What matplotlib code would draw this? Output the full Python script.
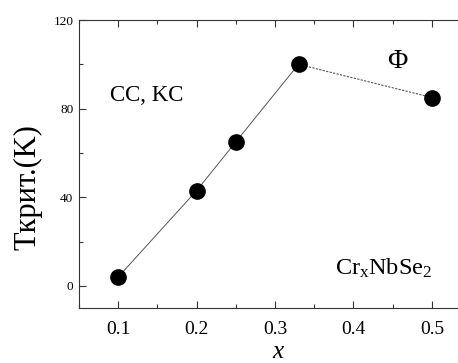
import matplotlib
matplotlib.use("Agg")
import matplotlib.pyplot as plt
from matplotlib.ticker import MultipleLocator

plt.rcParams['font.family'] = ['Liberation Serif', 'DejaVu Serif']
plt.rcParams['mathtext.fontset'] = 'custom'
plt.rcParams['mathtext.rm'] = 'Liberation Serif'
plt.rcParams['mathtext.it'] = 'Liberation Serif:italic'

# data
x_cs = [0.1, 0.2, 0.25, 0.33]
t_cs = [4, 43, 65, 100]
x_phi = [0.33, 0.5]
t_phi = [100, 85]
x_ticks = [0.1, 0.2, 0.3, 0.4, 0.5]
y_ticks = [0, 40, 80, 120]

fig = plt.figure(figsize=(4.58, 3.63), dpi=100)
ax = fig.add_axes([0.1725, 0.1515, 0.856, 0.7934])

ax.plot(x_cs, t_cs, color='#555555', lw=0.7, zorder=1)
ax.plot(x_phi, t_phi, color='#555555', lw=0.8, ls=(0, (2, 1.2)), zorder=1)
ax.plot(x_cs + x_phi[1:], t_cs + t_phi[1:], 'o', color='black', ms=11, zorder=2)

ax.set_xlim(0.05, 0.55)
ax.set_ylim(-10, 120)
ax.set_xticks(x_ticks)
ax.set_yticks(y_ticks)
ax.xaxis.set_minor_locator(MultipleLocator(0.05))
ax.yaxis.set_minor_locator(MultipleLocator(20))
ax.tick_params(which='both', direction='in', top=True, right=False, color='#333333')
ax.tick_params(which='major', length=5, width=0.8)
ax.tick_params(which='minor', length=3, width=0.8)
ax.tick_params(axis='x', labelsize=14, pad=9)
ax.tick_params(axis='y', labelsize=9.5, pad=4)
ax.spines['right'].set_visible(False)
for s in ax.spines.values():
    s.set_linewidth(0.8)
    s.set_color('#333333')

ax.set_ylabel('Tкрит.(K)', fontsize=22)
ax.yaxis.set_label_coords(-0.092, 0.42)
ax.set_xlabel('$x$', fontsize=18)
ax.xaxis.set_label_coords(0.51, -0.115)

ax.text(0.0895, 83.4, 'CC, KC', fontsize=16.5)
ax.text(0.443, 98.5, 'Φ', fontsize=20)
ax.text(0.3765, 5, 'Cr$_\\mathrm{x}$NbSe$_2$', fontsize=17.5)

fig.savefig('out.png', dpi=100)
